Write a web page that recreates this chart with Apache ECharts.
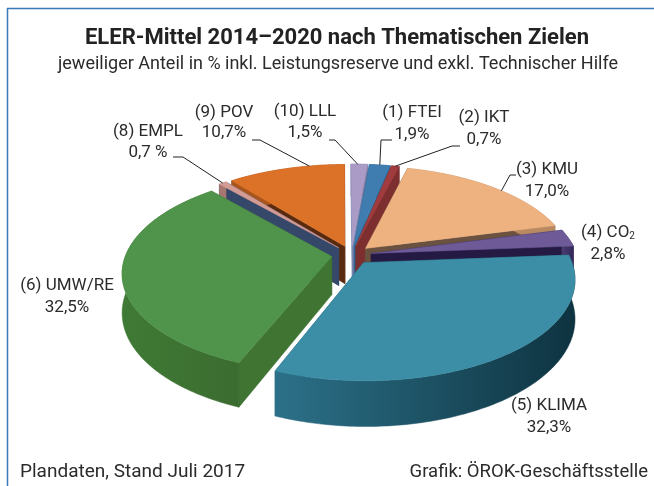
<!DOCTYPE html>
<html>
<head>
<meta charset="utf-8">
<style>
  html, body { margin: 0; padding: 0; background: #fff; }
  #main { width: 654px; height: 486px; }
</style>
</head>
<body>
<div id="main"></div>
<script src="https://cdn.jsdelivr.net/npm/echarts@6/dist/echarts.min.js"></script>
<script>
// data
const names = ['(1) FTEI', '(2) IKT', '(3) KMU', '(4) CO', '(5) KLIMA', '(6) UMW/RE', '(8) EMPL', '(9) POV', '(10) LLL'];
const values = [1.9, 0.7, 17.0, 2.8, 32.3, 32.5, 0.7, 10.7, 1.5];
const valueLabels = ['1,9%', '0,7%', '17,0%', '2,8%', '32,3%', '32,5%', '0,7 %', '10,7%', '1,5%'];

// slice colours: top, outer wall (left, right), cut wall
const topColors = ['#3f7db0', '#a03c3e', '#eeb281', '#6d5a97', '#3c8ea6', '#50934a', '#d49a94', '#dc7128', '#a99bc6'];
const wallLeft = ['#2f5f88', '#7d2f30', '#b98a62', '#4a3c70', '#2c7189', '#3f7a35', '#a87670', '#a9561e', '#83779c'];
const wallRight = ['#2f5f88', '#7d2f30', '#b98a62', '#33285a', '#0e3340', '#3b6c30', '#a87670', '#a9561e', '#83779c'];
const cutColors = ['#2f5f88', '#7d2f30', '#6b513f', '#241a44', '#1d5568', '#3f7433', '#35486a', '#5a2a0e', '#6d7fa8'];

// label placement: centre x, first line y, second line y
const labelX = [412, 484, 547, 608, 549, 67, 148, 224, 305];
const labelY1 = [113, 118, 170, 233, 406, 286, 132, 113, 112];
const labelY2 = [135, 140, 192, 255, 428, 308, 153, 133, 133];

// leader lines: position on the slice arc, elbow, end (null = no line)
const leaderFrac = [0.5, 0.5, 0.55, null, null, null, 0.5, 0.7, 0.4];
const leaderBend = [[381, 140], [452, 146], [510, 175], null, null, null, [183, 157], [260, 140], [335, 140]];
const leaderEnd = [[392, 140], [460, 146], [516, 175], null, null, null, [173, 157], [252, 140], [329, 140]];

// 3d pie geometry, fitted to the picture
const cx = 351.5, cy = 255, R = 206, explode = 20, depth = 38;
const tilt = 0.471, camera = 1319, firstAngle = 5;

const labelFont = '17px Roboto';
const textColor = '#2b2b2b';

const total = values.reduce((a, b) => a + b, 0);
const starts = [];
const ends = [];
let acc = firstAngle;
values.forEach(function (v) {
  starts.push(acc);
  acc += v / total * 360;
  ends.push(acc);
});

function rad(d) { return d * Math.PI / 180; }

// ground plane -> screen. Y grows towards the viewer
function project(X, Y, down) {
  let s = 1 / (1 - Y / camera);
  return [cx + X * s, cy + Y * tilt * s + (down ? depth * s : 0)];
}

function offset(i) {
  let mid = rad((starts[i] + ends[i]) / 2);
  return [explode * Math.sin(mid), -explode * Math.cos(mid)];
}

function rimPoint(i, angle, down) {
  let o = offset(i);
  return project(o[0] + R * Math.sin(rad(angle)), o[1] - R * Math.cos(rad(angle)), down);
}

function apexPoint(i, down) {
  let o = offset(i);
  return project(o[0], o[1], down);
}

function arc(i, down) {
  let pts = [];
  let n = Math.max(2, Math.ceil(ends[i] - starts[i]));
  for (let k = 0; k <= n; k++) {
    pts.push(rimPoint(i, starts[i] + (ends[i] - starts[i]) * k / n, down));
  }
  return pts;
}

function poly(points, fill) {
  return { type: 'polygon', shape: { points: points }, style: { fill: fill, stroke: fill, lineWidth: 0.5 } };
}

function renderSlice(params, api) {
  let i = api.value(0);
  let top = arc(i, false);
  let bottom = arc(i, true);
  let apex = apexPoint(i, false);
  let apexDown = apexPoint(i, true);
  let grad = new echarts.graphic.LinearGradient(0, 0, 1, 0, [
    { offset: 0, color: wallLeft[i] },
    { offset: 1, color: wallRight[i] }
  ]);
  return {
    type: 'group',
    children: [
      poly([apex, top[0], bottom[0], apexDown], cutColors[i]),
      poly([apex, top[top.length - 1], bottom[bottom.length - 1], apexDown], cutColors[i]),
      poly(top.concat(bottom.slice().reverse()), grad),
      poly([apex].concat(top), topColors[i])
    ]
  };
}

function renderLabel(params, api) {
  let i = api.value(0);
  let children = [];
  let first = i === 3 ? '{a|' + names[i] + '}{b|2}' : '{a|' + names[i] + '}';
  children.push({
    type: 'text',
    style: {
      x: labelX[i], y: labelY1[i], text: first, align: 'center', verticalAlign: 'middle',
      rich: {
        a: { font: labelFont, fill: textColor },
        b: { font: '10px Roboto', fill: textColor, padding: [6, 0, 0, 0] }
      }
    }
  });
  children.push({
    type: 'text',
    style: {
      x: labelX[i], y: labelY2[i], text: valueLabels[i], align: 'center', verticalAlign: 'middle',
      font: labelFont, fill: textColor
    }
  });
  if (leaderFrac[i] !== null) {
    let angle = starts[i] + (ends[i] - starts[i]) * leaderFrac[i];
    children.push({
      type: 'polyline',
      shape: { points: [rimPoint(i, angle, false), leaderBend[i], leaderEnd[i]] },
      style: { stroke: '#222', lineWidth: 1, fill: null }
    });
  }
  return { type: 'group', children: children };
}

// back slices first so the front ones paint over them
const drawOrder = values.map((v, i) => i).sort(function (a, b) {
  return Math.cos(rad((starts[b] + ends[b]) / 2)) - Math.cos(rad((starts[a] + ends[a]) / 2));
});

let myChart = echarts.init(document.getElementById('main'));
let option = {
  animation: false,
  backgroundColor: '#fff',
  title: [
    {
      text: 'ELER-Mittel 2014–2020 nach Thematischen Zielen',
      left: 332, top: 22, textAlign: 'center',
      textStyle: { fontFamily: 'Roboto', fontSize: 22, fontWeight: 'bold', color: '#222' }
    },
    {
      text: 'jeweiliger Anteil in % inkl. Leistungsreserve und exkl. Technischer Hilfe',
      left: 333, top: 50, textAlign: 'center',
      textStyle: { fontFamily: 'Roboto', fontSize: 18, fontWeight: 'normal', color: textColor }
    },
    {
      text: 'Plandaten, Stand Juli 2017',
      left: 15, top: 458,
      textStyle: { fontFamily: 'Roboto', fontSize: 19, fontWeight: 'normal', color: textColor }
    },
    {
      text: 'Grafik: ÖROK-Geschäftsstelle',
      right: 1, top: 458,
      textStyle: { fontFamily: 'Roboto', fontSize: 18.5, fontWeight: 'normal', color: textColor }
    }
  ],
  graphic: [
    { type: 'line', shape: { x1: 7, y1: 8.5, x2: 654, y2: 8.5 }, style: { stroke: '#3a7ab8', lineWidth: 1.5 } },
    { type: 'line', shape: { x1: 7.5, y1: 8, x2: 7.5, y2: 486 }, style: { stroke: '#3a7ab8', lineWidth: 1.5 } }
  ],
  series: [
    { type: 'custom', coordinateSystem: 'none', silent: true, renderItem: renderSlice, data: drawOrder.map(i => [i]) },
    { type: 'custom', coordinateSystem: 'none', silent: true, z: 5, renderItem: renderLabel, data: values.map((v, i) => [i]) }
  ]
};
myChart.setOption(option);
</script>
</body>
</html>
